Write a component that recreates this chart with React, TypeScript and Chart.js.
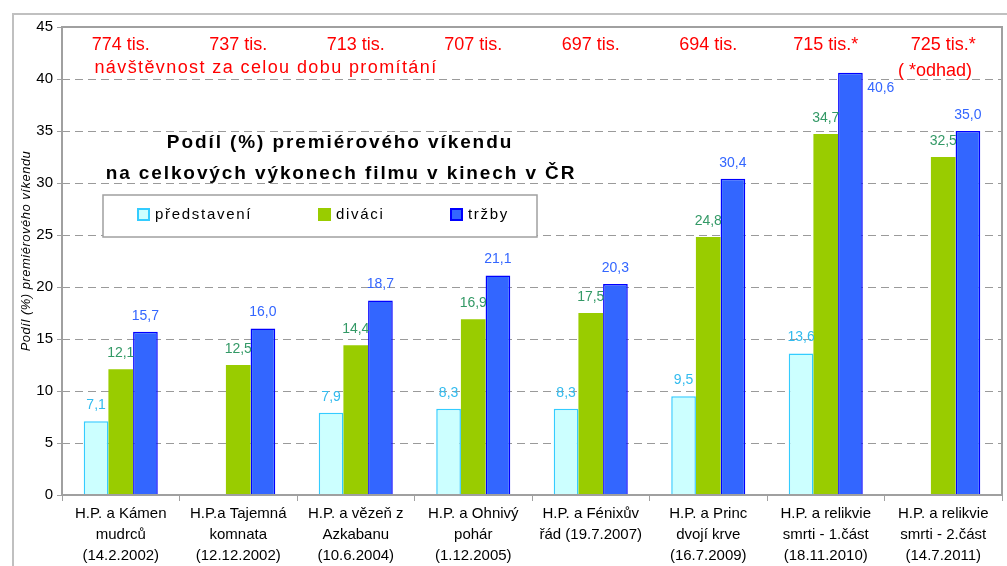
import React, { useEffect, useRef } from "react";
import { Chart, registerables } from "chart.js";

Chart.register(...registerables);

const categories: string[][] = [
  ["H.P. a Kámen", "mudrců", "(14.2.2002)"],
  ["H.P.a Tajemná", "komnata", "(12.12.2002)"],
  ["H.P. a vězeň z", "Azkabanu", "(10.6.2004)"],
  ["H.P. a Ohnivý", "pohár", "(1.12.2005)"],
  ["H.P. a Fénixův", "řád (19.7.2007)"],
  ["H.P. a Princ", "dvojí krve", "(16.7.2009)"],
  ["H.P. a relikvie", "smrti - 1.část", "(18.11.2010)"],
  ["H.P. a relikvie", "smrti - 2.část", "(14.7.2011)"],
];

const predstaveni: (number | null)[] = [7.1, null, 7.9, 8.3, 8.3, 9.5, 13.6, null];
const divaci: number[] = [12.1, 12.5, 14.4, 16.9, 17.5, 24.8, 34.7, 32.5];
const trzby: number[] = [15.7, 16.0, 18.7, 21.1, 20.3, 30.4, 40.6, 35.0];

const attendance: string[] = ["774 tis.", "737 tis.", "713 tis.", "707 tis.", "697 tis.", "694 tis.", "715 tis.*", "725 tis.*"];
const attendanceNote = "návštěvnost za celou dobu promítání";
const estimateNote = "( *odhad)";
const innerTitle: string[] = ["Podíl (%) premiérového víkendu", "na celkových výkonech filmu v kinech v ČR"];
const yTitle = "Podíl (%) premiérového víkendu";
const seriesNames: string[] = ["představení", "diváci", "tržby"];

const FONT = "'Liberation Sans', Arial, sans-serif";
const labelColors = ["#33bbee", "#339966", "#3366ff"];
const legendFill = ["#ccffff", "#99cc00", "#3366ff"];
const legendBorder = ["#33ccff", "#99cc00", "#0000ff"];

const overlay = {
  id: "overlay",
  beforeDraw(chart: any) {
    const ctx = chart.ctx;
    ctx.save();
    ctx.strokeStyle = "#c0c0c0";
    ctx.lineWidth = 2;
    ctx.strokeRect(13, 14, 1200, 700);
    ctx.restore();
  },
  beforeDatasetsDraw(chart: any) {
    const ctx = chart.ctx;
    const area = chart.chartArea;
    const y = chart.scales.y;
    ctx.save();
    ctx.strokeStyle = "#9a9a9a";
    ctx.lineWidth = 1;
    ctx.setLineDash([8, 5]);
    for (let v = 5; v < 45; v += 5) {
      const py = Math.round(y.getPixelForValue(v)) + 0.5;
      ctx.beginPath();
      ctx.moveTo(area.left, py);
      ctx.lineTo(area.right, py);
      ctx.stroke();
    }
    ctx.restore();
  },
  afterDatasetsDraw(chart: any) {
    const ctx = chart.ctx;
    const area = chart.chartArea;
    const xs = chart.scales.x;
    ctx.save();
    // plot border
    ctx.strokeStyle = "#a0a0a0";
    ctx.lineWidth = 2;
    ctx.strokeRect(area.left, area.top, area.right - area.left, area.bottom - area.top);

    // y axis title
    ctx.save();
    ctx.translate(26, 251);
    ctx.rotate(-Math.PI / 2);
    ctx.font = `italic 13px ${FONT}`;
    (ctx as any).letterSpacing = "0.5px";
    ctx.fillStyle = "#000000";
    ctx.textAlign = "center";
    ctx.textBaseline = "middle";
    ctx.fillText(yTitle, 0, 0);
    ctx.restore();

    // data labels
    ctx.font = `14px ${FONT}`;
    ctx.textAlign = "center";
    ctx.textBaseline = "middle";
    chart.data.datasets.forEach((ds: any, di: number) => {
      const meta = chart.getDatasetMeta(di);
      meta.data.forEach((bar: any, i: number) => {
        const v = ds.data[i];
        if (v === null || v === undefined) return;
        const txt = v.toFixed(1).replace(".", ",");
        ctx.fillStyle = labelColors[di];
        let lx = bar.x;
        let ly = bar.y - 16;
        if (ly < area.top + 40) {
          lx = bar.x + bar.width / 2 + 18;
          ly = bar.y + 15;
        }
        ctx.fillText(txt, lx, ly);
      });
    });

    // red attendance texts
    ctx.fillStyle = "#ff0000";
    ctx.font = `18px ${FONT}`;
    attendance.forEach((t, i) => {
      ctx.fillText(t, xs.getPixelForValue(i), 45);
    });
    ctx.fillText(estimateNote, 935, 71);
    (ctx as any).letterSpacing = "1.4px";
    ctx.fillText(attendanceNote, 266, 68);

    // inner title
    ctx.fillStyle = "#000000";
    ctx.font = `bold 19px ${FONT}`;
    (ctx as any).letterSpacing = "1.9px";
    ctx.fillText(innerTitle[0], 340, 143);
    ctx.fillText(innerTitle[1], 341, 174);

    // legend
    (ctx as any).letterSpacing = "1.7px";
    ctx.fillStyle = "#ffffff";
    ctx.fillRect(103, 195, 434, 42);
    ctx.strokeStyle = "#a0a0a0";
    ctx.lineWidth = 1.5;
    ctx.strokeRect(103, 195, 434, 42);
    const markX = [138, 319, 451];
    ctx.font = `15px ${FONT}`;
    ctx.textAlign = "left";
    seriesNames.forEach((n, i) => {
      ctx.fillStyle = legendFill[i];
      ctx.fillRect(markX[i], 209, 11, 11);
      ctx.strokeStyle = legendBorder[i];
      ctx.lineWidth = 2;
      ctx.strokeRect(markX[i], 209, 11, 11);
      ctx.fillStyle = "#000000";
      ctx.fillText(n, markX[i] + 17, 215);
    });
    ctx.restore();
  },
};

export default function App() {
  const ref = useRef<HTMLCanvasElement>(null);
  useEffect(() => {
    if (!ref.current) return;
    const chart = new Chart(ref.current, {
      type: "bar",
      data: {
        labels: categories,
        datasets: [
          {
            label: seriesNames[0],
            data: predstaveni,
            backgroundColor: "#ccffff",
            borderColor: "#33ccff",
            borderWidth: 1.5,
            barPercentage: 1,
            categoryPercentage: 0.63,
          },
          {
            label: seriesNames[1],
            data: divaci,
            backgroundColor: "#99cc00",
            borderColor: "#99cc00",
            borderWidth: 0,
            barPercentage: 1,
            categoryPercentage: 0.63,
          },
          {
            label: seriesNames[2],
            data: trzby,
            backgroundColor: "#3366ff",
            borderColor: "#0000ff",
            borderWidth: 1.5,
            barPercentage: 1,
            categoryPercentage: 0.63,
          },
        ],
      },
      options: {
        animation: false,
        responsive: false,
        maintainAspectRatio: false,
        layout: { padding: { left: 0, top: 27, right: 5, bottom: 0 } },
        plugins: {
          legend: { display: false },
          tooltip: { enabled: false },
          title: { display: false },
        },
        scales: {
          x: {
            afterFit: (s: any) => {
              s.height = 71;
            },
            grid: {
              display: true,
              offset: true,
              drawOnChartArea: false,
              color: "#a0a0a0",
              tickLength: 6,
              lineWidth: 1,
            },
            border: { display: false },
            ticks: {
              color: "#000000",
              padding: 2,
              maxRotation: 0,
              autoSkip: false,
              font: { family: FONT, size: 15, lineHeight: 1.4 },
            },
          },
          y: {
            min: 0,
            max: 45,
            afterFit: (s: any) => {
              s.width = 62;
            },
            grid: {
              display: true,
              drawOnChartArea: false,
              color: "#a0a0a0",
              tickLength: 5,
            },
            border: { display: false },
            ticks: {
              stepSize: 5,
              color: "#000000",
              padding: 4,
              font: { family: FONT, size: 15 },
            },
            title: { display: false },
          },
        },
      },
      plugins: [overlay],
    });
    return () => chart.destroy();
  }, []);
  return (
    <div style={{ position: "fixed", left: 0, top: 0, width: 1007, height: 566, background: "#fff" }}>
      <canvas ref={ref} width={1007} height={566} style={{ width: 1007, height: 566 }} />
    </div>
  );
}
